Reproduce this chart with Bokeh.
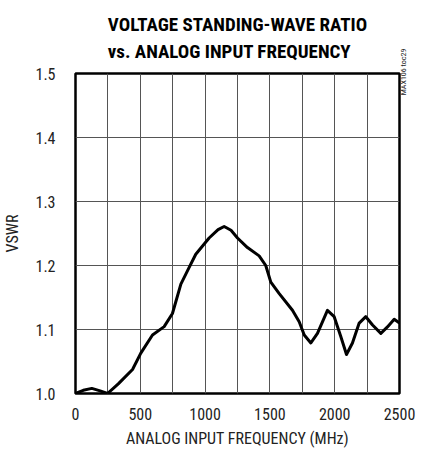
import math
from bokeh.plotting import figure
from bokeh.models import FixedTicker, LinearAxis, Title
from bokeh.embed import file_html
from bokeh.resources import INLINE

freq = [0, 60, 126, 190, 247, 330, 440, 504, 594, 684, 748, 813, 877, 928,
        1031, 1100, 1147, 1200, 1250, 1327, 1417, 1468, 1507, 1572, 1674, 1726,
        1765, 1816, 1867, 1944, 1996, 2047, 2091, 2137, 2189, 2240, 2292,
        2356, 2407, 2459, 2500]
vswr = [1.000, 1.005, 1.008, 1.004, 1.000, 1.015, 1.0375, 1.063, 1.0915,
        1.1045, 1.125, 1.171, 1.197, 1.2176, 1.243, 1.256, 1.261, 1.255, 1.243,
        1.228, 1.215, 1.200, 1.174, 1.156, 1.130, 1.112, 1.0915, 1.079,
        1.094, 1.130, 1.120, 1.089, 1.061, 1.079, 1.110, 1.120, 1.107,
        1.094, 1.104, 1.116, 1.110]

x_ticks = [0, 500, 1000, 1500, 2000, 2500]
x_grid = [0, 250, 500, 750, 1000, 1250, 1500, 1750, 2000, 2250, 2500]
y_ticks = [1.0, 1.1, 1.2, 1.3, 1.4, 1.5]
y_tick_labels = ["1.0", "1.1", "1.2", "1.3", "1.4", "1.5"]

title1 = "VOLTAGE STANDING-WAVE RATIO"
title2 = "vs. ANALOG INPUT FREQUENCY"
x_label = "ANALOG INPUT FREQUENCY (MHz)"
y_label = "VSWR"
tag = "MAX106 toc29"
tag_at = 1.466

FONT = "Roboto Condensed"

p = figure(width=417, height=452, x_range=(0, 2500), y_range=(1.0, 1.5),
           output_backend="svg", toolbar_location=None,
           min_border_left=75, min_border_right=18,
           min_border_top=69, min_border_bottom=59)
p.background_fill_color = "white"
p.border_fill_color = "white"
p.outline_line_color = "black"
p.outline_line_width = 2.5

tag_axis = LinearAxis(ticker=FixedTicker(ticks=[tag_at]),
                      major_label_overrides={tag_at: tag})
p.add_layout(tag_axis, "right")

p.xaxis.ticker = FixedTicker(ticks=x_ticks)
p.yaxis[0].ticker = FixedTicker(ticks=y_ticks)
p.xgrid.ticker = FixedTicker(ticks=x_grid)
p.ygrid.ticker = FixedTicker(ticks=y_ticks)
p.yaxis[0].major_label_overrides = {t: s for t, s in zip(y_ticks, y_tick_labels)}
for g in (p.xgrid, p.ygrid):
    g.grid_line_color = "#555555"
    g.grid_line_width = 1

for ax in (p.xaxis[0], p.yaxis[0], tag_axis):
    ax.axis_line_color = None
    ax.major_tick_line_color = None
    ax.minor_tick_line_color = None
    ax.major_tick_out = 0
    ax.major_tick_in = 0
    ax.minor_tick_out = 0
    ax.minor_tick_in = 0
    ax.major_label_text_font = FONT
    ax.major_label_text_font_size = "16px"
    ax.major_label_text_color = "#222222"
    ax.axis_label_text_font = FONT
    ax.axis_label_text_font_size = "16px"
    ax.axis_label_text_font_style = "normal"
    ax.axis_label_text_color = "#222222"

tag_axis.major_label_text_font_size = "8px"
tag_axis.major_label_orientation = math.pi / 2
tag_axis.major_label_standoff = 4

p.xaxis[0].axis_label = x_label
p.yaxis[0].axis_label = y_label
p.yaxis[0].major_label_standoff = 20
p.xaxis[0].major_label_standoff = 14
p.yaxis[0].axis_label_standoff = 10
p.xaxis[0].axis_label_standoff = 6

p.line(freq, vswr, line_color="black", line_width=3, line_join="round")

p.add_layout(Title(text=title1 + "\n" + title2, align="center", standoff=20,
                   text_font=FONT, text_font_style="bold",
                   text_line_height=1.2,
                   text_font_size="19px", text_color="black"), "above")

open("out.html", "w").write(file_html(p, INLINE))
